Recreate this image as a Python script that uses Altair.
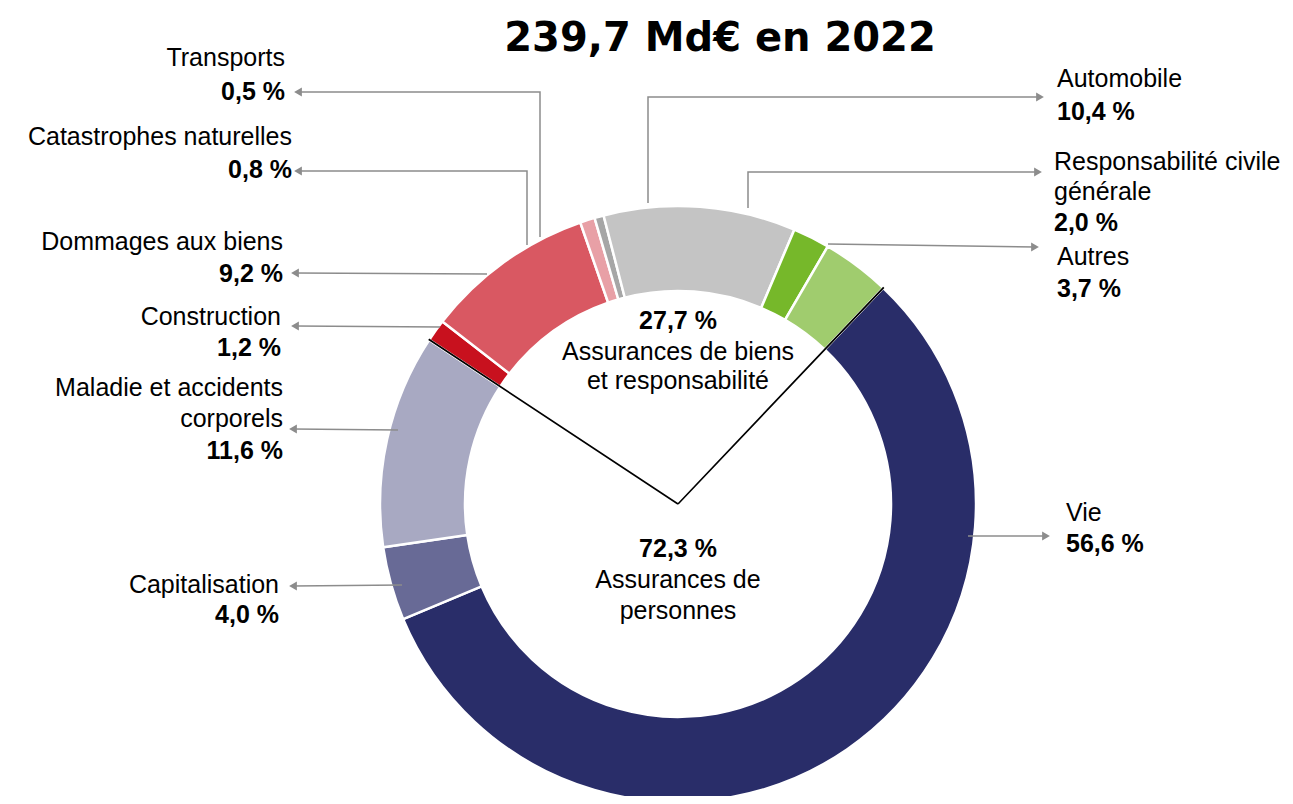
import math
import altair as alt
import pandas as pd

# ---------------- data ----------------
categories = ["Vie", "Capitalisation", "Maladie et accidents corporels", "Construction",
              "Dommages aux biens", "Catastrophes naturelles", "Transports", "Automobile",
              "Responsabilité civile générale", "Autres"]
shares = [56.6, 4.0, 11.6, 1.2, 9.2, 0.8, 0.5, 10.4, 2.0, 3.7]
label_lines = [["Vie"], ["Capitalisation"], ["Maladie et accidents", "corporels"], ["Construction"],
               ["Dommages aux biens"], ["Catastrophes naturelles"], ["Transports"], ["Automobile"],
               ["Responsabilité civile", "générale"], ["Autres"]]
n_personnes = 3  # first three categories = Assurances de personnes
group_shares = [72.3, 27.7]
group_lines = [["Assurances de", "personnes"], ["Assurances de biens", "et responsabilité"]]
title_text = "239,7 Md€ en 2022"

# ---------------- style ----------------
colors = ["#292D69", "#686A96", "#A8A9C2", "#C8111E", "#D95862", "#E8A0A6",
          "#A6A6A6", "#C4C4C4", "#76B82A", "#A0CC6E"]
FONT = "Liberation Sans"
FS = 25
GRAY = "#8C8C8C"
TXT = "#000000"

# ---------------- layout (screen pixels) ----------------
OFF = 8
W, H = 1277, 788
CX, CY = 678, 504
R_OUT, R_IN = 298, 213
START_DEG = 43.5

# label anchor x, y of each text line (name lines then percentage), alignment
label_layout = [
    (1066, [513, 544], "left"),
    (279, [585, 615], "right"),
    (283, [388, 419, 451], "right"),
    (281, [317, 348], "right"),
    (283, [242, 274], "right"),
    (292, [137, 170], "right"),
    (285, [58, 92], "right"),
    (1057, [79, 112], "left"),
    (1054, [162, 192, 223], "left"),
    (1057, [257, 289], "left"),
]
# leader line polylines, last point is arrow tip
leader_paths = [
    [(968, 536), (1051, 536)],
    [(402, 585), (288, 586)],
    [(398, 430), (288, 429)],
    [(440, 327), (290, 326)],
    [(487, 274), (290, 273)],
    [(527, 245), (527, 171), (293, 171)],
    [(540, 237), (540, 92), (293, 92)],
    [(648, 203), (648, 97), (1045, 97)],
    [(748, 208), (748, 172), (1043, 172)],
    [(828, 244), (1040, 247)],
]
group_text_layout = [(678, [549, 580, 611]), (678, [321, 352, 381])]
title_pos = (720, 39)


def fmt(v):
    return f"{v:.1f}".replace(".", ",") + " %"


# ---------------- tables ----------------
slices = pd.DataFrame({"cat": categories, "value": shares, "idx": list(range(len(categories)))})
b = sum(shares[:n_personnes])
bounds = pd.DataFrame({"b": [0.0, b], "b2": [0.01, b + 0.01]})

name_rows, pct_rows = [], []
for i, (lines, (lx, ys, al)) in enumerate(zip(label_lines, label_layout)):
    for j, line in enumerate(lines):
        name_rows.append({"x": lx - OFF, "y": ys[j] - OFF, "t": line, "al": al})
    pct_rows.append({"x": lx - OFF, "y": ys[len(lines)] - OFF, "t": fmt(shares[i]), "al": al})
names = pd.DataFrame(name_rows)
pcts = pd.DataFrame(pct_rows)

grp_bold, grp_norm = [], []
for gs, lines, (gx, ys) in zip(group_shares, group_lines, group_text_layout):
    grp_bold.append({"x": gx - OFF, "y": ys[0] - OFF, "t": fmt(gs)})
    for j, line in enumerate(lines):
        grp_norm.append({"x": gx - OFF, "y": ys[j + 1] - OFF, "t": line})
grp_bold = pd.DataFrame(grp_bold)
grp_norm = pd.DataFrame(grp_norm)

line_rows, arrow_rows = [], []
for i, path in enumerate(leader_paths):
    pts = list(path)
    tip = pts[-1]
    prev = pts[-2]
    d = 1 if tip[0] > prev[0] else -1
    base = (tip[0] - d * 5, tip[1])
    pts[-1] = base
    for k, (px, py) in enumerate(pts):
        line_rows.append({"id": i, "k": k, "x": px - OFF, "y": py - OFF})
    arrow_rows.append({"x": base[0] - OFF, "y": base[1] - OFF,
                       "shape": "triangle-right" if d > 0 else "triangle-left"})
lines_df = pd.DataFrame(line_rows)
arrows_df = pd.DataFrame(arrow_rows)
title_df = pd.DataFrame({"x": [title_pos[0] - OFF], "y": [title_pos[1] - OFF], "t": [title_text]})

# ---------------- scales ----------------
xs = alt.Scale(domain=[0, W], range=[0, W], nice=False, zero=False)
ys_ = alt.Scale(domain=[0, H], range=[0, H], nice=False, zero=False)
start = math.radians(START_DEG)
th = alt.Scale(domain=[0, 100], range=[start, start + 2 * math.pi])


def X(f="x"):
    return alt.X(f + ":Q", scale=xs, axis=None)


def Y(f="y"):
    return alt.Y(f + ":Q", scale=ys_, axis=None)


donut = alt.Chart(slices).mark_arc(
    innerRadius=R_IN, outerRadius=R_OUT, stroke="white", strokeWidth=2.5
).encode(
    theta=alt.Theta("value:Q", stack=True, scale=th),
    order=alt.Order("idx:Q", sort="ascending"),
    color=alt.Color("cat:N", scale=alt.Scale(domain=categories, range=colors), legend=None),
    x=alt.value(CX - OFF),
    y=alt.value(CY - OFF),
)

sep = alt.Chart(bounds).mark_arc(
    innerRadius=0, outerRadius=R_OUT, stroke="black", strokeWidth=1.6, fillOpacity=0
).encode(
    theta=alt.Theta("b:Q", stack=False, scale=th),
    theta2="b2:Q",
    x=alt.value(CX - OFF),
    y=alt.value(CY - OFF),
)

leaders = alt.Chart(lines_df).mark_line(color=GRAY, strokeWidth=1.5).encode(
    x=X(), y=Y(), detail="id:N", order="k:Q"
)
arrows = alt.Chart(arrows_df).mark_point(filled=True, size=80, color=GRAY, opacity=1).encode(
    x=X(), y=Y(),
    shape=alt.Shape("shape:N", scale=alt.Scale(domain=["triangle-left", "triangle-right"],
                                                range=["triangle-left", "triangle-right"]), legend=None),
)


def text_layer(df, align, bold):
    return alt.Chart(df).mark_text(
        align=align, baseline="middle", font=FONT, fontSize=FS,
        fontWeight="bold" if bold else "normal", color=TXT
    ).encode(x=X(), y=Y(), text="t:N")


name_r = text_layer(names[names["al"] == "right"], "right", False)
name_l = text_layer(names[names["al"] == "left"], "left", False)
pct_r = text_layer(pcts[pcts["al"] == "right"], "right", True)
pct_l = text_layer(pcts[pcts["al"] == "left"], "left", True)
gb = text_layer(grp_bold, "center", True)
gn = text_layer(grp_norm, "center", False)

title = alt.Chart(title_df).mark_text(
    align="center", baseline="middle", font="DejaVu Sans", fontSize=40, fontWeight="bold", color="#000000"
).encode(x=X(), y=Y(), text="t:N")

chart = alt.layer(
    donut, sep, leaders, arrows, name_r, name_l, pct_r, pct_l, gb, gn, title
).properties(
    width=W, height=H, autosize=alt.AutoSizeParams(type="none"), padding=0,
    view=alt.ViewBackground(stroke="transparent", strokeWidth=0)
).configure_view(stroke="transparent", strokeWidth=0).configure(background="white")

chart.save("out.html", embed_options={"renderer": "svg", "actions": False})
